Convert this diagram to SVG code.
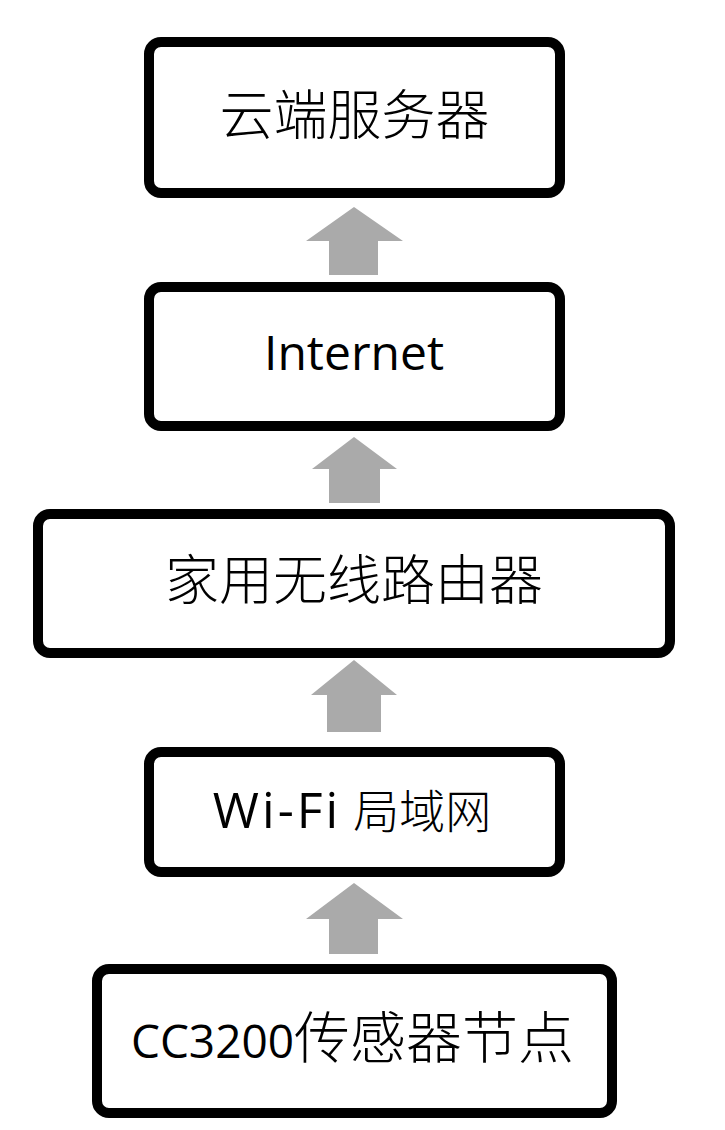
<svg xmlns="http://www.w3.org/2000/svg" width="725" height="1130" viewBox="0 0 725 1130">
<style>
.box{fill:#fff;stroke:#000;stroke-width:10}
.lbl{font-family:"Open Sans","Noto Sans CJK SC",sans-serif;fill:#000;text-anchor:middle}
.cjk{font-family:"Noto Sans CJK SC",sans-serif;font-weight:300}
.arr{fill:#AAAAAA;stroke:none}
</style>
<rect width="725" height="1130" fill="#fff"/>
<g id="connectors">
<polygon class="arr" points="354,207 403,241 378,241 378,275 329,275 329,241 306,241"/>
<polygon class="arr" points="354,437 397,469 380,469 380,503 329,503 329,469 312,469"/>
<polygon class="arr" points="354,660 397,695 381,695 381,732 327,732 327,695 311,695"/>
<polygon class="arr" points="354,883 403,919 378,919 378,954 329,954 329,919 306,919"/>
</g>
<g id="node-cloud">
<rect class="box" x="149" y="42" width="411" height="151" rx="12"/>
<text class="lbl cjk" x="354.5" y="135" font-size="54">云端服务器</text>
</g>
<g id="node-internet">
<rect class="box" x="149" y="287" width="411" height="139" rx="12"/>
<text class="lbl" x="354" y="370" font-size="48">Internet</text>
</g>
<g id="node-router">
<rect class="box" x="38" y="514" width="632" height="139" rx="12"/>
<text class="lbl cjk" x="354" y="600" font-size="54">家用无线路由器</text>
</g>
<g id="node-wifi">
<rect class="box" x="149" y="752" width="411" height="120" rx="12"/>
<text class="lbl" x="352" y="828" font-size="46"><tspan font-size="50" letter-spacing="3">Wi-Fi</tspan> <tspan class="cjk" font-size="46">局域网</tspan></text>
</g>
<g id="node-sensor">
<rect class="box" x="97" y="969" width="515" height="144" rx="12"/>
<text class="lbl" x="352.5" y="1058" font-size="46">CC3200<tspan class="cjk" font-size="56">传感器节点</tspan></text>
</g>
</svg>
